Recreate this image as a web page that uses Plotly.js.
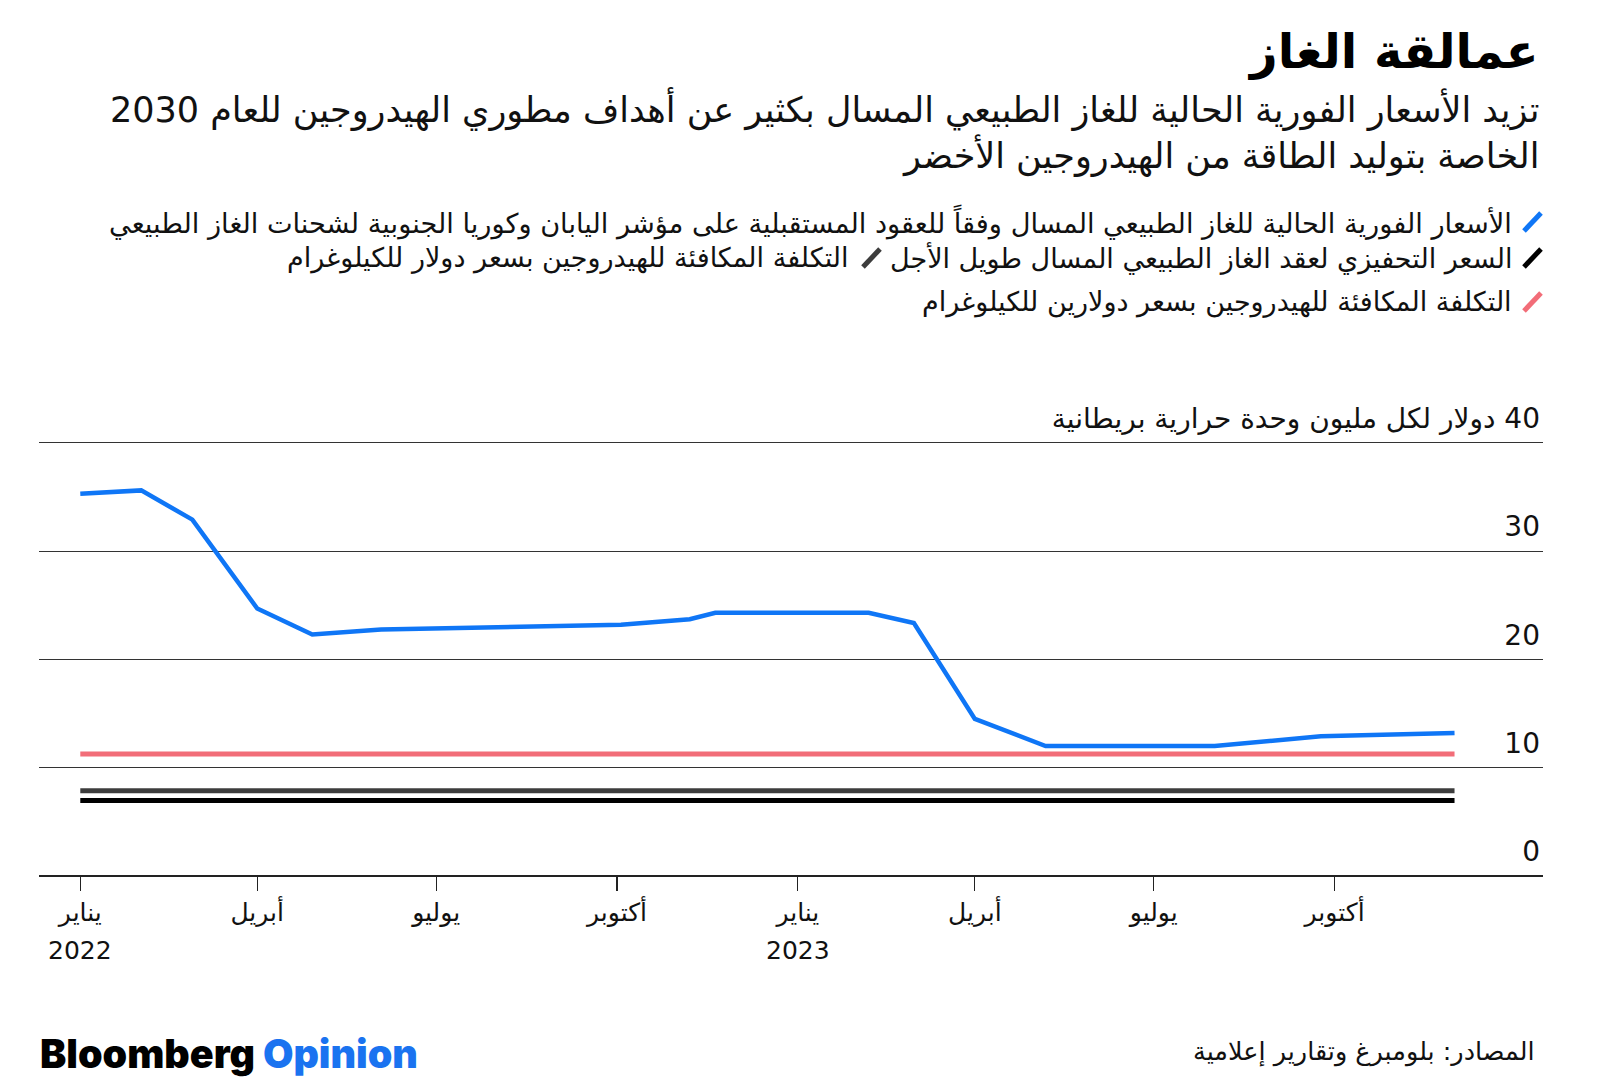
<!DOCTYPE html>
<html>
<head>
<meta charset="utf-8">
<script src="https://cdn.plot.ly/plotly-3.0.1.min.js"></script>
<style>
  html, body { margin: 0; padding: 0; background: #fff; }
  #chart { width: 1600px; height: 1088px; }
</style>
</head>
<body>
<div id="chart"></div>
<script>
// ---- Data ----
const spotDates = ['2022-01-01','2022-02-01','2022-02-27','2022-04-01','2022-04-29','2022-06-03','2022-10-03','2022-11-07','2022-11-20','2023-02-06','2023-03-01','2023-04-01','2023-05-07','2023-08-01','2023-09-24','2023-12-01'];
const spotValues = [35.3, 35.6, 32.9, 24.7, 22.3, 22.75, 23.2, 23.7, 24.3, 24.3, 23.35, 14.5, 12.0, 12.0, 12.9, 13.2];

const flatDates = ['2022-01-01', '2023-12-01'];
const hydrogen2Values = [11.26, 11.26];
const hydrogen1Values = [7.88, 7.88];
const longTermValues = [6.96, 6.96];

const seriesNames = [
  'الأسعار الفورية الحالية للغاز الطبيعي المسال وفقاً للعقود المستقبلية على مؤشر اليابان وكوريا الجنوبية لشحنات الغاز الطبيعي',
  'السعر التحفيزي لعقد الغاز الطبيعي المسال طويل الأجل',
  'التكلفة المكافئة للهيدروجين بسعر دولار للكيلوغرام',
  'التكلفة المكافئة للهيدروجين بسعر دولارين للكيلوغرام'
];

const xTickVals = ['2022-01-01','2022-04-01','2022-07-01','2022-10-01','2023-01-01','2023-04-01','2023-07-01','2023-10-01'];
const xMonthLabels = ['يناير','أبريل','يوليو','أكتوبر','يناير','أبريل','يوليو','أكتوبر'];
const yearDates = ['2022-01-01', '2023-01-01'];
const yearLabels = ['2022', '2023'];

const yTickVals = [0, 10, 20, 30, 40];
const yTickLabels = ['0', '10', '20', '30', '\u200F40 دولار لكل مليون وحدة حرارية بريطانية'];

const titleText = 'عمالقة الغاز';
const subtitleLines = [
  'تزيد الأسعار الفورية الحالية للغاز الطبيعي المسال بكثير عن أهداف مطوري الهيدروجين للعام 2030',
  'الخاصة بتوليد الطاقة من الهيدروجين الأخضر'
];
const sourceText = 'المصادر: بلومبرغ وتقارير إعلامية';

// ---- Layout helpers ----
const W = 1600, H = 1088;
const Y_MAX = 44.5;
const M = { l: 39, r: 57, t: 394, b: 212 };
const PW = W - M.l - M.r, PH = H - M.t - M.b;
const P = px => (px - M.l) / PW;
const Q = py => (H - M.b - py) / PH;

const AR = 'DejaVu Sans, sans-serif';
const BLUE = '#0f76f6', PINK = '#f26d78', GRAY = '#3d3d3d', BLACK = '#000000';

const traces = [
  { x: flatDates, y: longTermValues, mode: 'lines', line: { color: BLACK, width: 5 }, name: seriesNames[1], hoverinfo: 'skip' },
  { x: flatDates, y: hydrogen1Values, mode: 'lines', line: { color: GRAY, width: 5 }, name: seriesNames[2], hoverinfo: 'skip' },
  { x: flatDates, y: hydrogen2Values, mode: 'lines', line: { color: PINK, width: 5 }, name: seriesNames[3], hoverinfo: 'skip' },
  { x: spotDates, y: spotValues, mode: 'lines', line: { color: BLUE, width: 4.5 }, name: seriesNames[0], hoverinfo: 'skip' }
];

function ann(text, xpx, ypx, size, opts) {
  return Object.assign({
    text: text, xref: 'paper', yref: 'paper', x: P(xpx), y: Q(ypx),
    xanchor: 'right', yanchor: 'middle', showarrow: false,
    font: { family: AR, size: size, color: '#111' }
  }, opts || {});
}
function icon(color, xr, yc) {
  return { type: 'line', xref: 'paper', yref: 'paper',
    x0: P(xr - 17), y0: Q(yc + 9), x1: P(xr), y1: Q(yc - 9),
    line: { color: color, width: 5 } };
}

const yearAnns = yearDates.map((d, i) => ({
  text: yearLabels[i], xref: 'x', yref: 'paper', x: d, y: Q(950),
  xanchor: 'center', yanchor: 'middle', showarrow: false,
  font: { family: AR, size: 25, color: '#111' }
}));

const layout = {
  width: W, height: H,
  margin: M,
  paper_bgcolor: '#ffffff', plot_bgcolor: '#ffffff',
  showlegend: false,
  font: { family: AR, color: '#111' },
  xaxis: {
    type: 'date',
    range: ['2021-12-11', '2024-01-15'],
    tickvals: xTickVals, ticktext: xMonthLabels,
    ticks: 'outside', ticklen: 14, tickwidth: 1.2, tickcolor: '#222',
    showgrid: false, zeroline: false, showline: false,
    tickfont: { family: AR, size: 25, color: '#111' },
    fixedrange: true
  },
  yaxis: {
    side: 'right', range: [0, Y_MAX],
    tickvals: yTickVals, ticktext: yTickLabels,
    ticks: '', ticklabelposition: 'inside top',
    ticklabelshift: -5, ticklabeloverflow: 'allow',
    showgrid: true, gridcolor: '#333', gridwidth: 1,
    zeroline: true, zerolinecolor: '#222', zerolinewidth: 1.5,
    showline: false,
    tickfont: { family: AR, size: 28, color: '#111' },
    fixedrange: true
  },
  annotations: [
    ann('<b>' + titleText + '</b>', 1541, 51, 48, { font: { family: AR, size: 48, color: '#000' } }),
    ann(subtitleLines[0], 1541, 109, 35),
    ann(subtitleLines[1], 1541, 155, 35),
    ann(seriesNames[0], 1514, 222, 27.2),
    ann(seriesNames[1], 1514, 258, 27),
    ann(seriesNames[2], 851, 258, 27),
    ann(seriesNames[3], 1514, 302, 27),
    ann(sourceText, 1537, 1051, 25.5),
    ann("Bloomberg <span style='color:#1a73f0'>Opinion</span>", 38, 1054, 39.4,
        { xanchor: 'left', font: { family: 'Inter, Roboto, sans-serif', size: 39.4, color: '#000', weight: 900 } })
  ].concat(yearAnns),
  shapes: [
    icon(BLUE, 1541, 222),
    icon(BLACK, 1541, 258),
    icon(GRAY, 880, 258),
    icon(PINK, 1541, 302)
  ]
};

Plotly.newPlot('chart', traces, layout, { displayModeBar: false, staticPlot: true });
</script>
</body>
</html>
